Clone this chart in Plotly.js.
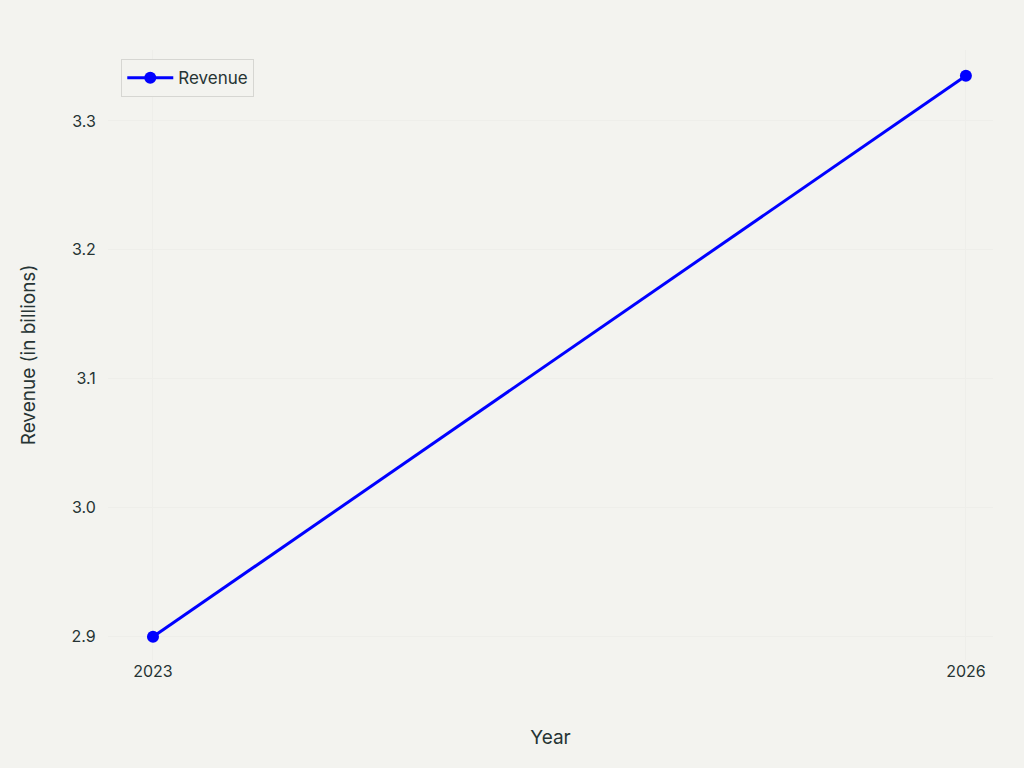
<!DOCTYPE html>
<html>
<head>
<meta charset="utf-8">
<script src="https://cdn.plot.ly/plotly-3.0.1.min.js"></script>
<style>
  html, body { margin: 0; padding: 0; background: #f3f3ef; }
  #grafico { width: 1024px; height: 768px; }
</style>
</head>
<body>
<div id="grafico"></div>
<script>
/* Datos */
const years = [2023, 2026];
const revenue = [2.9, 3.335];
const seriesName = "Revenue";

/* Trazo */
const traceRevenue = {
    type: "scatter",
    mode: "lines+markers",
    name: seriesName,
    x: years,
    y: revenue,
    line: { color: "#0000ff", width: 3 },
    marker: { color: "#0000ff", size: 12 }
};

const layout = {
    width: 1024,
    height: 768,
    paper_bgcolor: "#f3f3ef",
    plot_bgcolor: "#f3f3ef",
    font: { family: "Inter, 'Liberation Sans', sans-serif", size: 16, color: "#263434" },
    margin: { l: 108, r: 31, t: 50, b: 108 },
    showlegend: true,
    legend: {
        x: 0.015, y: 0.985, xanchor: "left", yanchor: "top",
        bgcolor: "#f3f3ef", bordercolor: "#d6d6d2", borderwidth: 1,
        itemwidth: 46,
        font: { size: 17 }
    },
    xaxis: {
        title: { text: "Year", font: { size: 19 }, standoff: 50 },
        range: [2022.834, 2026.1],
        tickvals: years,
        ticktext: years.map(String),
        showgrid: true,
        gridcolor: "#eeeeea",
        zeroline: false,
        showline: false,
        ticks: "",
        ticklen: 8
    },
    yaxis: {
        title: { text: "Revenue (in billions)", font: { size: 19 }, standoff: 30 },
        range: [2.882, 3.355],
        dtick: 0.1,
        tickformat: ".1f",
        showgrid: true,
        gridcolor: "#eeeeea",
        zeroline: false,
        showline: false,
        ticks: "outside",
        tickcolor: "rgba(0,0,0,0)",
        ticklen: 8
    }
};

Plotly.newPlot("grafico", [traceRevenue], layout, { displayModeBar: false });
</script>
</body>
</html>
